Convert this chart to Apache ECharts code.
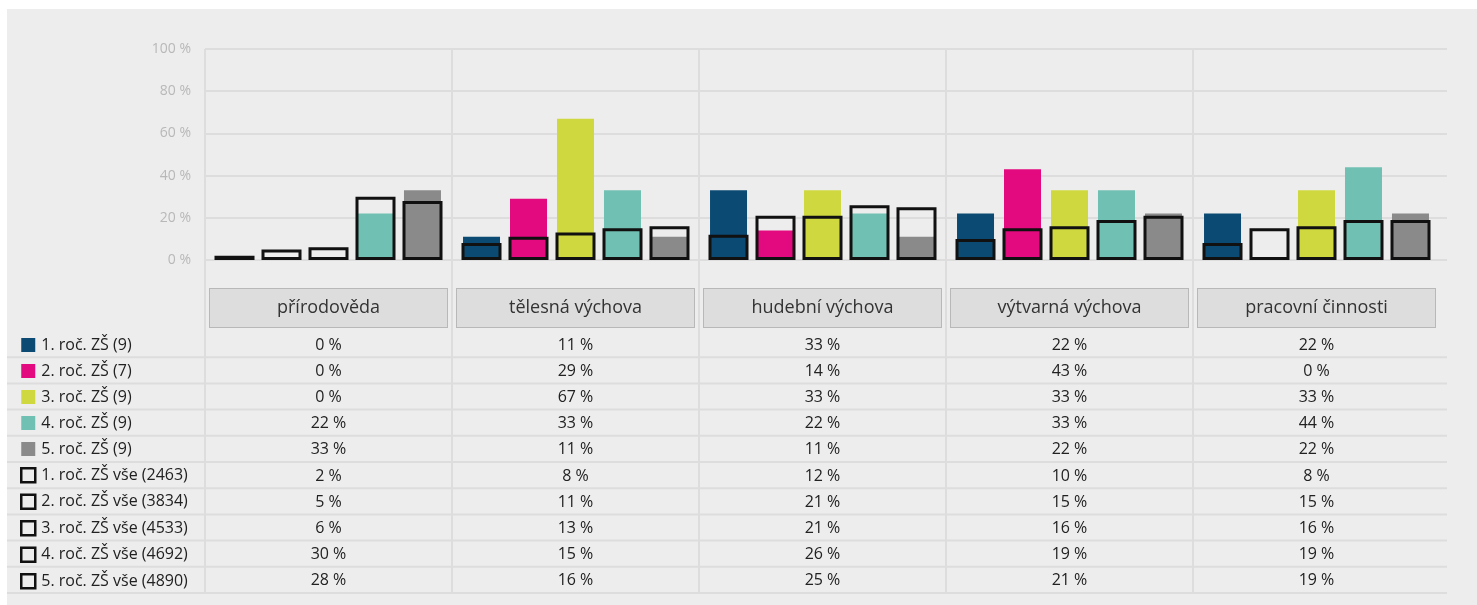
<!DOCTYPE html>
<html>
<head>
<meta charset="utf-8">
<script src="https://cdn.jsdelivr.net/npm/echarts@6/dist/echarts.min.js"></script>
<style>
  html, body { margin: 0; padding: 0; background: #ffffff; }
  #panel { position: absolute; left: 7px; top: 9px; right: 0; bottom: 0; background: #ededed; }
  #chart { position: absolute; left: 0; top: 0; width: 1477px; height: 605px; }
</style>
</head>
<body>
<div id="panel"></div>
<div id="chart"></div>
<script>
// kategorie (předměty)
var categories = ['přírodověda', 'tělesná výchova', 'hudební výchova', 'výtvarná výchova', 'pracovní činnosti'];

// vzorek - barevné sloupce
var roc1 = [0, 11, 33, 22, 22];
var roc2 = [0, 29, 14, 43, 0];
var roc3 = [0, 67, 33, 33, 33];
var roc4 = [22, 33, 22, 33, 44];
var roc5 = [33, 11, 11, 22, 22];

// všichni - obrysové sloupce
var vse1 = [2, 8, 12, 10, 8];
var vse2 = [5, 11, 21, 15, 15];
var vse3 = [6, 13, 21, 16, 16];
var vse4 = [30, 15, 26, 19, 19];
var vse5 = [28, 16, 25, 21, 19];

var colorNames = ['1. roč. ZŠ (9)', '2. roč. ZŠ (7)', '3. roč. ZŠ (9)', '4. roč. ZŠ (9)', '5. roč. ZŠ (9)'];
var outlineNames = ['1. roč. ZŠ vše (2463)', '2. roč. ZŠ vše (3834)', '3. roč. ZŠ vše (4533)', '4. roč. ZŠ vše (4692)', '5. roč. ZŠ vše (4890)'];
var colors = ['#0b4a73', '#e3097f', '#cfd93f', '#70c1b3', '#8a8a8a'];

var yTicks = [0, 20, 40, 60, 80, 100];

var colorData = [roc1, roc2, roc3, roc4, roc5];
var outlineData = [vse1, vse2, vse3, vse4, vse5];

var FONT = '"Open Sans", "Noto Sans", sans-serif';
var GRID_LINE = '#dddddd';

var chart = echarts.init(document.getElementById('chart'));

var series = [];
colorData.forEach(function (d, i) {
  series.push({
    name: colorNames[i],
    type: 'bar',
    xAxisIndex: 0,
    yAxisIndex: 0,
    data: d,
    barWidth: 37,
    barGap: '27%',
    barMinHeight: 1,
    itemStyle: { color: colors[i] }
  });
});
outlineData.forEach(function (d, i) {
  series.push({
    name: outlineNames[i],
    type: 'bar',
    xAxisIndex: 1,
    yAxisIndex: 0,
    data: d,
    barWidth: 40,
    barGap: '17.5%',
    itemStyle: { color: 'rgba(0,0,0,0)', borderColor: '#111111', borderWidth: 3 },
    z: 3
  });
});

var legendData = colorNames.map(function (n) { return { name: n }; }).concat(
  outlineNames.map(function (n) {
    return { name: n, itemStyle: { color: 'rgba(0,0,0,0)', borderColor: '#111111', borderWidth: 2.5 } };
  })
);

var option = {
  animation: false,
  textStyle: { fontFamily: FONT },
  grid: [
    // sloupce
    { left: 205, right: 37, top: 49, bottom: 345 },
    // vodorovné mřížky
    { left: 205, right: 30, top: 49, bottom: 345 },
    // tabulka - svislé čáry
    { left: 205, right: 37, top: 260, bottom: 13 }
  ],
  xAxis: [
    {
      type: 'category', gridIndex: 0, data: categories,
      axisLine: { show: false }, axisTick: { show: false },
      splitLine: { show: true, showMinLine: true, showMaxLine: false, lineStyle: { color: GRID_LINE, width: 2 } },
      axisLabel: {
        interval: 0, margin: 29, fontSize: 18, color: '#333333', fontFamily: FONT,
        backgroundColor: '#dddddd', borderColor: '#b8b8b8', borderWidth: 1,
        width: 237, height: 38, lineHeight: 38, padding: 0, align: 'center', overflow: 'none'
      }
    },
    { type: 'category', gridIndex: 0, data: categories, show: false },
    { type: 'value', gridIndex: 1, show: false },
    {
      type: 'category', gridIndex: 2, data: categories,
      axisLine: { show: false }, axisTick: { show: false }, axisLabel: { show: false },
      splitLine: { show: true, showMinLine: true, showMaxLine: false, lineStyle: { color: GRID_LINE, width: 2 } }
    }
  ],
  yAxis: [
    {
      type: 'value', gridIndex: 0, min: yTicks[0], max: yTicks[yTicks.length - 1], interval: yTicks[1] - yTicks[0],
      axisLine: { show: false }, axisTick: { show: false }, splitLine: { show: false },
      axisLabel: { formatter: '{value} %', color: '#b8b8b8', fontSize: 14, margin: 14, fontFamily: FONT }
    },
    {
      type: 'value', gridIndex: 1, min: yTicks[0], max: yTicks[yTicks.length - 1], interval: yTicks[1] - yTicks[0],
      axisLine: { show: false }, axisTick: { show: false }, axisLabel: { show: false },
      splitLine: { show: true, lineStyle: { color: GRID_LINE, width: 2 } }
    },
    { type: 'value', gridIndex: 2, show: false }
  ],
  legend: {
    orient: 'vertical',
    left: 20,
    top: 337,
    padding: 0,
    itemWidth: 14,
    itemHeight: 14,
    itemGap: 10,
    icon: 'rect',
    selectedMode: false,
    data: legendData,
    textStyle: { fontSize: 16, color: '#222222', lineHeight: 16, fontFamily: FONT, padding: [0, 0, 0, 1] }
  },
  series: series
};

chart.setOption(option);

// tabulka hodnot pod grafem
var ROW_TOP = 331;
var ROW_H = 26.2;
var rows = colorData.concat(outlineData);
var graphics = [];
rows.forEach(function (vals, r) {
  var cy = ROW_TOP + ROW_H * r + ROW_H / 2 + 1;
  vals.forEach(function (v, c) {
    var cx = chart.convertToPixel({ xAxisIndex: 0 }, categories[c]);
    graphics.push({
      type: 'text',
      x: cx, y: cy,
      style: { text: v + ' %', fontSize: 16, fontFamily: FONT, fill: '#222222', align: 'center', verticalAlign: 'middle' }
    });
  });
  var ly = ROW_TOP + ROW_H * (r + 1);
  graphics.push({
    type: 'line',
    shape: { x1: 7, y1: ly, x2: 1447, y2: ly },
    style: { stroke: GRID_LINE, lineWidth: 2 }
  });
});
chart.setOption({ graphic: graphics });
</script>
</body>
</html>
